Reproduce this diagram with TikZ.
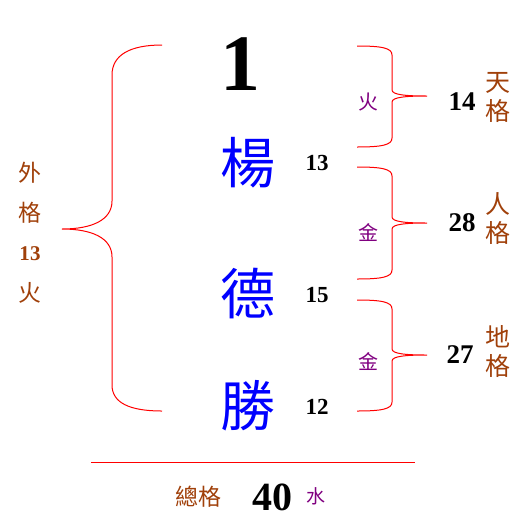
\documentclass[tikz,border=0pt]{standalone}
\usepackage{fontspec}
\setmainfont{Liberation Serif}
\newfontfamily\cjk{Noto Sans CJK TC}
\usepackage{tikz}
\usepackage{xcolor}

\definecolor{namecol}{RGB}{0,0,255}
\definecolor{gecol}{RGB}{160,64,10}
\definecolor{elemcol}{RGB}{128,0,128}

% brace opening to the right: x of open ends, top, tip, bottom
\newcommand{\rightbrace}[4]{%
  \draw[bracket] (#1,#2) .. controls +(25,0) and +(0,-7) .. (#1+35,#2+9)
    -- (#1+35,#3-6) .. controls +(0,5) and +(-20,0) .. (#1+70,#3)
    .. controls +(-20,0) and +(0,-5) .. (#1+35,#3+6)
    -- (#1+35,#4-9) .. controls +(0,7) and +(25,0) .. (#1,#4);}

\begin{document}
\begin{tikzpicture}[x=1pt, y=-1pt,
    namechar/.style={text=namecol, font=\cjk\fontsize{55}{55}\selectfont},
    strokenum/.style={font=\bfseries\fontsize{23}{23}\selectfont},
    genum/.style={font=\bfseries\fontsize{27}{27}\selectfont},
    gelabel/.style={text=gecol, font=\cjk\fontsize{25}{29}\selectfont, align=center},
    wuxing/.style={text=elemcol, font=\cjk\fontsize{20}{20}\selectfont},
    bracket/.style={draw=red, line width=1pt}]
\useasboundingbox (0,0) rectangle (529,528);
\node[font=\bfseries\fontsize{80}{80}\selectfont] (one) at (240,64) {1};
\node[namechar] (yang) at (248,163) {楊};
\node[namechar] (de) at (248,294) {德};
\node[namechar] (sheng) at (248,406) {勝};
\node[strokenum] (n13) at (317,163) {13};
\node[strokenum] (n15) at (317,295) {15};
\node[strokenum] (n12) at (317,407) {12};
% outer frame
\node[gelabel, font=\cjk\fontsize{23}{23}\selectfont] (wai) at (30,173) {外};
\node[gelabel, font=\cjk\fontsize{23}{23}\selectfont] (waige) at (30,213) {格};
\node[text=gecol, font=\bfseries\fontsize{21}{21}\selectfont] (wainum) at (30,254) {13};
\node[gelabel, font=\cjk\fontsize{23}{23}\selectfont] (waiel) at (30,293) {火};
\draw[bracket] (162,45) .. controls (130,45) and (112,55) .. (112,75) -- (112,201)
  .. controls (112,220) and (92,229) .. (62,229)
  .. controls (92,229) and (112,238) .. (112,257) -- (112,385)
  .. controls (112,403) and (130,411) .. (162,411);
% right side
\rightbrace{357}{46}{96}{147}
\rightbrace{357}{167}{223}{279}
\rightbrace{357}{300}{355}{411}
\node[wuxing] (el1) at (368,102) {火};
\node[wuxing] (el2) at (368,233) {金};
\node[wuxing] (el3) at (368,362) {金};
\node[genum] (tian) at (462,102) {14};
\node[genum] (ren) at (462,223) {28};
\node[genum] (di) at (460,355) {27};
\node[gelabel] (tiange) at (498,97) {天\\格};
\node[gelabel] (renge) at (498,219) {人\\格};
\node[gelabel] (dige) at (498,352) {地\\格};
% total
\draw[red, line width=1pt] (91,462) -- (415,462);
\node[gelabel, font=\cjk\fontsize{23}{23}\selectfont] (zong) at (198,497) {總格};
\node[font=\bfseries\fontsize{40}{40}\selectfont] (total) at (272,497) {40};
\node[wuxing, font=\cjk\fontsize{19}{19}\selectfont] (shui) at (316,496) {水};
\end{tikzpicture}
\end{document}
